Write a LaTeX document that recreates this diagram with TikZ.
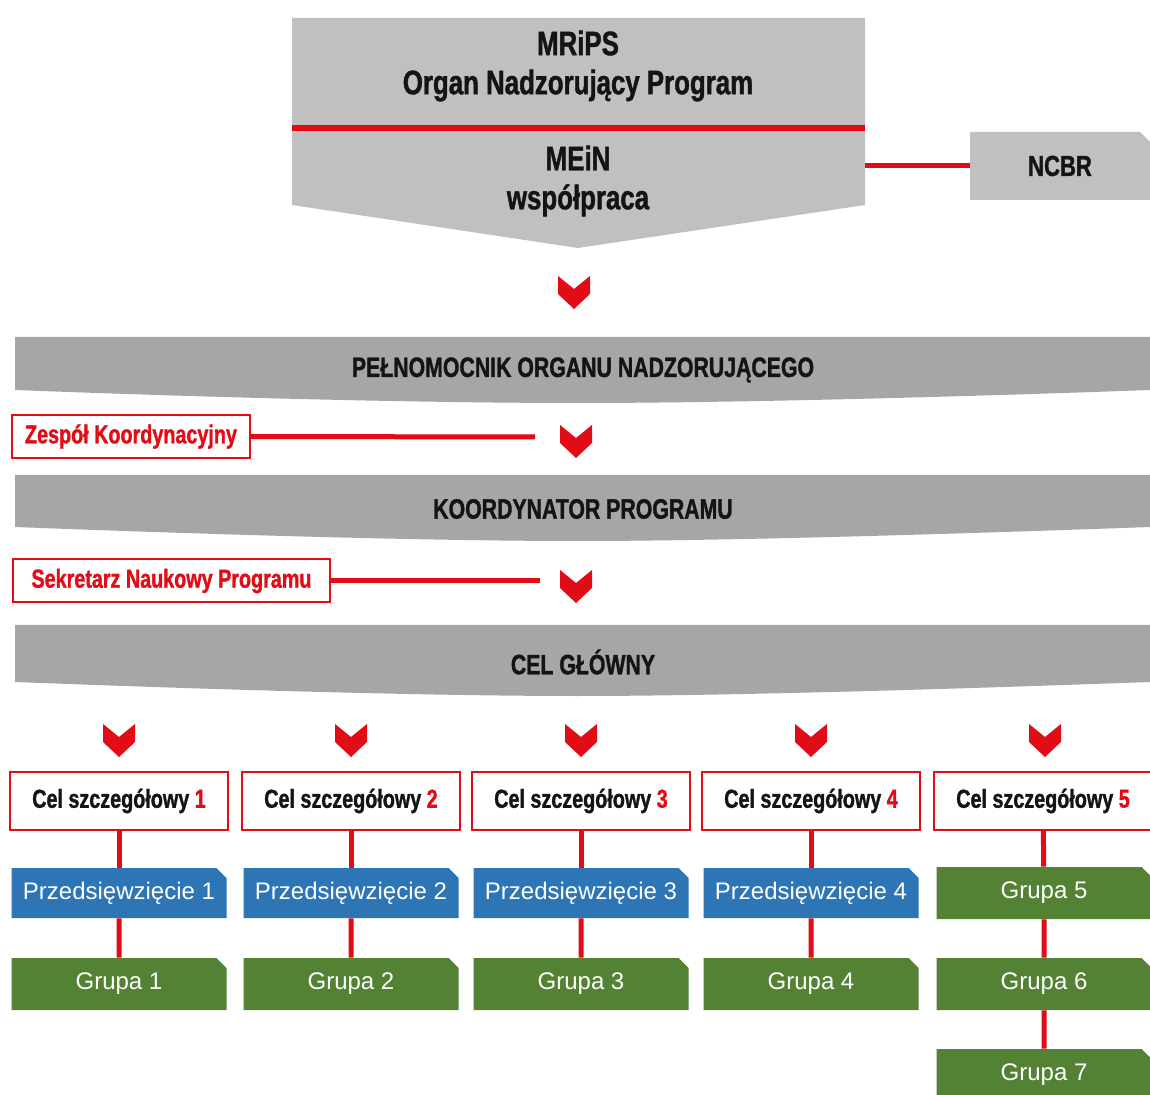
\documentclass[tikz,border=0pt]{standalone}
\usepackage{fontspec}
\setmainfont{Liberation Sans}
\newfontfamily\narrowfont[FakeStretch=0.76, BoldFeatures={FakeBold=1.2}]{Liberation Sans}
\usetikzlibrary{positioning, shapes.misc}
\definecolor{redline}{RGB}{226,12,22}
\definecolor{toplight}{RGB}{192,192,192}
\definecolor{bandgray}{RGB}{166,166,166}
\definecolor{taskblue}{RGB}{46,117,182}
\definecolor{groupgreen}{RGB}{84,130,53}
\definecolor{darktext}{RGB}{20,20,20}

\tikzset{
  link/.style={draw=redline, line width=2.5pt},
  toptext/.style={align=center, text=darktext, font=\narrowfont\bfseries\fontsize{17}{19.5}\selectfont},
  bandtext/.style={text=darktext, font=\narrowfont\bfseries\fontsize{14}{16}\selectfont},
  goalbox/.style={draw=redline, line width=1pt, fill=white, minimum width=109pt, minimum height=29pt,
    inner sep=0pt, text=darktext, font=\narrowfont\bfseries\fontsize{13}{15}\selectfont},
  sidebox/.style={draw=redline, line width=1pt, fill=white, minimum height=21.5pt, inner sep=2pt,
    text=redline, font=\narrowfont\bfseries\fontsize{13}{15}\selectfont},
  tagbox/.style={chamfered rectangle, chamfered rectangle corners=north east,
    chamfered rectangle xsep=2.5pt, chamfered rectangle ysep=2.5pt, inner sep=0pt,
    minimum width=107.5pt, minimum height=25pt, text=white, font=\fontsize{12}{14}\selectfont},
  taskbox/.style={tagbox, fill=taskblue},
  groupbox/.style={tagbox, fill=groupgreen, minimum height=26pt},
  ncbrbox/.style={tagbox, fill=toplight, minimum width=90pt, minimum height=34pt,
    text=darktext, font=\narrowfont\bfseries\fontsize{14.5}{16}\selectfont},
  chev/.pic={\fill[redline] (-16,-16) -- (0,-3) -- (16,-16) -- (16,2) -- (0,17) -- (-16,2) -- cycle;}
}

\begin{document}
\begin{tikzpicture}[x=0.5pt, y=-0.5pt]
  \useasboundingbox[fill=white] (0,0) rectangle (1150,1095);

  % supervising body
  \fill[toplight] (292,18) -- (865,18) -- (865,205) -- (578,248) -- (292,205) -- cycle;
  \draw[redline, line width=3pt] (292,128) -- (865,128);
  \node[toptext] (mrips) at (578,66) {MRiPS\\Organ Nadzorujący Program};
  \node[toptext] (mein) at (578,181) {MEiN\\współpraca};
  \coordinate (meinedge) at (865,166);
  \node[ncbrbox] (ncbr) at (1060,166) {NCBR};
  \draw[link] (meinedge) -- (ncbr.west);
  \pic at (574,292) {chev};

  % grey bands
  \foreach \t/\b/\c in {337/390/403, 475/527/541, 625/682/696}
    \fill[bandgray] (15,\t) -- (1150,\t) -- (1150,\b) .. controls (900,\b+9) and (700,\c) .. (578,\c)
      .. controls (450,\c) and (250,\b+9) .. (15,\b) -- cycle;
  \node[bandtext] (plenipot) at (583,370) {PEŁNOMOCNIK ORGANU NADZORUJĄCEGO};
  \node[bandtext] (coordinator) at (583,509) {KOORDYNATOR PROGRAMU};
  \node[bandtext] (maingoal) at (583,662) {CEL GŁÓWNY};

  % side roles
  \node[sidebox, minimum width=119pt] (team) at (131,436.5) {Zespół Koordynacyjny};
  \coordinate (teamend) at (535,437);
  \draw[link] (team.east) -- (teamend);
  \pic at (576,441) {chev};
  \node[sidebox, minimum width=158.5pt] (secretary) at (171.5,581) {Sekretarz Naukowy Programu};
  \coordinate (secretaryend) at (540,581);
  \draw[link] (secretary.east) -- (secretaryend);
  \pic at (576,586) {chev};

  % specific goals
  \foreach \i/\x in {1/119, 2/351, 3/581, 4/811} {
    \pic at (\x,740) {chev};
    \node[goalbox] (goal\i) at (\x,801) {Cel szczegółowy \textcolor{redline}{\i}};
    \node[taskbox] (task\i) at (\x,893) {Przedsięwzięcie \i};
    \node[groupbox] (group\i) at (\x,984) {Grupa \i};
    \draw[link] (goal\i) -- (task\i);
    \draw[link] (task\i) -- (group\i);
  }
  \pic at (1045,740) {chev};
  \node[goalbox] (goal5) at (1043,801) {Cel szczegółowy \textcolor{redline}{5}};
  \node[groupbox] (group5) at (1044,893) {Grupa 5};
  \node[groupbox] (group6) at (1044,984) {Grupa 6};
  \node[groupbox] (group7) at (1044,1075) {Grupa 7};
  \draw[link] (goal5) -- (group5);
  \draw[link] (group5) -- (group6);
  \draw[link] (group6) -- (group7);
\end{tikzpicture}
\end{document}
